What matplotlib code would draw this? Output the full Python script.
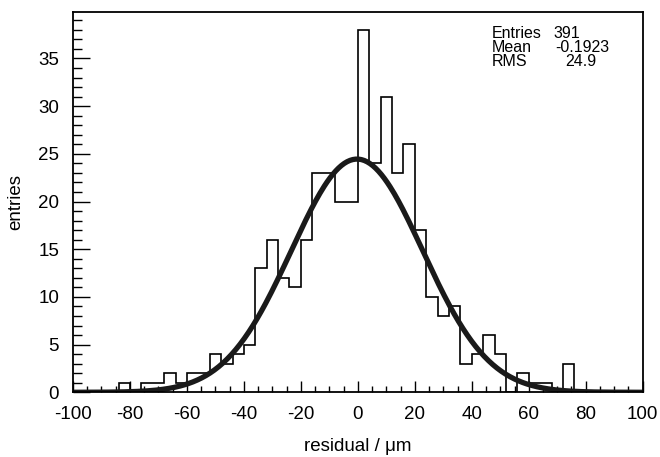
import numpy as np
import matplotlib
matplotlib.use("Agg")
import matplotlib.pyplot as plt
from matplotlib.ticker import MultipleLocator

plt.rcParams['font.family'] = ['Liberation Sans', 'DejaVu Sans']
plt.rcParams['axes.unicode_minus'] = False

# 50 bins of 4 um between -100 and 100
bin_edges = np.linspace(-100, 100, 51)
counts = [0, 0, 0, 0, 1, 0, 1, 1, 2, 1,
          2, 2, 4, 3, 4, 5, 13, 16, 12, 11,
          16, 23, 23, 20, 20, 38, 24, 31, 23, 26,
          17, 10, 8, 9, 3, 4, 6, 4, 0, 2,
          1, 1, 0, 3, 0, 0, 0, 0, 0, 0]

# gaussian fit parameters
fit_amp = 24.45
fit_mean = -0.3
fit_sigma = 23.1

stat_labels = ["Entries", "Mean", "RMS"]
stat_values = ["391", "-0.1923", "24.9"]

fig = plt.figure(figsize=(6.6, 4.57), dpi=100)
ax = fig.add_axes([73 / 660, 1 - 392.3 / 457, (642.7 - 73) / 660, (392.3 - 11.7) / 457])

ax.stairs(counts, bin_edges, color='black', linewidth=1.2)

xf = np.linspace(-100, 100, 400)
yf = fit_amp * np.exp(-0.5 * ((xf - fit_mean) / fit_sigma) ** 2)
ax.plot(xf, yf, color='#1a1a1a', linewidth=3.8, solid_capstyle='butt')

ax.set_xlim(-100, 100)
ax.set_ylim(0, 1.05 * max(counts))

ax.xaxis.set_major_locator(MultipleLocator(20))
ax.xaxis.set_minor_locator(MultipleLocator(5))
ax.yaxis.set_major_locator(MultipleLocator(5))
ax.yaxis.set_minor_locator(MultipleLocator(1))
ax.tick_params(axis='x', which='major', direction='in', length=8, width=1.0, labelsize=13.5, pad=10)
ax.tick_params(axis='x', which='minor', direction='in', length=4.5, width=1.0)
ax.tick_params(axis='y', which='major', direction='in', length=12.5, width=1.0, labelsize=13.5, pad=10)
ax.tick_params(axis='y', which='minor', direction='in', length=6.5, width=1.0)
for s in ax.spines.values():
    s.set_linewidth(1.3)

ax.set_xlabel("residual / μm", fontsize=13.5, labelpad=11)
ax.set_ylabel("entries", fontsize=13.5, labelpad=10)

label_x = 491.7
value_x = [553, 555, 565]
row_y = [34, 47.5, 61]
for lab, val, vx, ry in zip(stat_labels, stat_values, value_x, row_y):
    fig.text(label_x / 660, 1 - ry / 457, lab, fontsize=11.5, va='center', ha='left')
    fig.text(vx / 660, 1 - ry / 457, val, fontsize=11.5, va='center', ha='left')

fig.savefig("out.png", dpi=100)
